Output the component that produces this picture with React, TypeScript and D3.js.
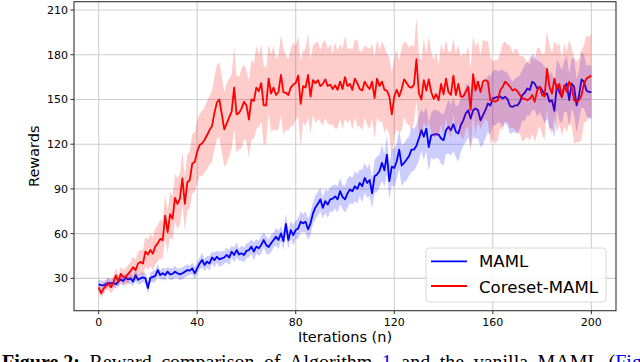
import React from "react";
import * as d3 from "d3";

const xTicks = [0, 40, 80, 120, 160, 200];
const yTicks = [30, 60, 90, 120, 150, 180, 210];

const mamlMean = [
  26, 25.5, 25.3, 26.2, 27, 26.6, 27, 26, 27.8, 29.3,
  28.2, 30.4, 29.3, 30, 27.8, 32.2, 29, 30, 30.7, 30,
  23.5, 30.4, 31, 31.6, 35.6, 32.2, 33.4, 32.2, 34.5, 32.7,
  33, 34.5, 33.4, 32.7, 33.4, 34.5, 35.6, 35.2, 36.7, 33.4,
  36.7, 40, 42.3, 39, 41.2, 40, 44, 42.3, 44.5, 42.7,
  43.4, 44, 45.7, 44, 47.9, 45.7, 49, 46, 46.8, 45.7,
  48.5, 49, 51.3, 48, 51.3, 50.2, 52.4, 55.7, 52.4, 51,
  53.5, 55.7, 58, 55.7, 60.2, 55, 66.5, 55.7, 62.4, 59,
  62.4, 63.5, 68, 66.9, 68, 62.9, 66.9, 73.6, 77.6, 80,
  83, 77.3, 81.8, 79.5, 83, 83.5, 85, 83, 88.5, 84.6,
  83, 87, 89.6, 88.5, 91.8, 90, 94, 91.8, 97.4, 94,
  96, 87, 98.5, 99.7, 102, 107.5, 102.5, 113, 95.2, 105,
  104, 108.6, 116.4, 105.7, 107.5, 109.7, 112, 116.4, 116.4, 119,
  124, 129.4, 125, 130.5, 118, 126, 126.5, 126.8, 126.5, 123.8,
  122.7, 129.4, 131.7, 129.4, 133.4, 128.3, 127.2, 132.8, 136, 140.6,
  142.8, 137.2, 142.8, 144, 142.8, 136, 139.5, 142.8, 147.3, 146,
  150.7, 151.3, 151.8, 152, 150.7, 151.8, 150, 145.5, 145, 146,
  146, 148.4, 153, 154.5, 157.4, 156.3, 161.9, 160.7, 157.4, 158.5,
  156.3, 153, 154, 148.4, 149.5, 142.4, 159.6, 155, 151.8, 158.5,
  160.7, 149.5, 160.7, 158.5, 146, 152.8, 163.4, 161.9, 156, 155,
  155,
];

const mamlSpread = [
  3, 3, 3, 3, 3, 3, 3, 3, 3, 3,
  3, 3, 3, 4, 3, 4, 3, 4, 3, 4,
  4, 3, 4, 4, 4, 3, 4, 4, 3, 4,
  4, 4, 3, 4, 4, 4, 4, 3, 4, 4,
  4, 4, 5, 4, 4, 5, 4, 5, 4, 5,
  5, 4, 5, 5, 4, 5, 5, 4, 5, 5,
  5, 5, 5, 6, 5, 5, 6, 5, 6, 5,
  6, 5, 6, 6, 5, 6, 7, 6, 6, 7,
  6, 7, 7, 6, 7, 7, 8, 7, 8, 8,
  8, 7, 8, 9, 8, 9, 8, 9, 9, 8,
  9, 10, 9, 9, 10, 10, 9, 11, 10, 10,
  11, 10, 11, 12, 11, 12, 11, 13, 12, 12,
  13, 12, 13, 14, 13, 14, 13, 15, 14, 14,
  15, 14, 16, 15, 16, 15, 17, 16, 16, 17,
  17, 16, 18, 17, 18, 17, 19, 18, 17, 19,
  18, 19, 18, 20, 19, 18, 20, 19, 19, 20,
  18, 19, 17, 18, 19, 17, 18, 19, 17, 18,
  19, 18, 17, 19, 18, 17, 19, 18, 19, 17,
  18, 19, 17, 18, 19, 18, 17, 19, 18, 17,
  19, 18, 17, 19, 18, 17, 19, 18, 17, 18,
  18,
];

const coresetMean = [
  24, 20, 23, 25, 26.5, 24, 27, 32, 28, 33,
  31, 31, 33, 35, 37.5, 35.5, 40, 41, 40, 48,
  46, 49, 46.5, 51.5, 53.5, 56.5, 55.5, 72, 61, 73,
  70, 84, 80, 83.5, 97, 80, 94.5, 96, 107, 108,
  115, 119.5, 120.5, 123, 126, 129.5, 132, 141, 148, 150,
  140, 130, 134, 138, 142, 158, 140, 141, 144, 148.5,
  146, 136.5, 150, 149, 158, 155.5, 161, 146, 146, 164,
  154, 158, 153, 155, 166.5, 155, 154.5, 153, 158, 160,
  161, 166, 147, 159, 158, 166.5, 152, 163, 161, 163,
  159, 160.5, 163.5, 159, 160, 157, 159.5, 156.5, 162, 157,
  165, 159, 160.5, 156.5, 164, 161, 157, 156, 162, 159,
  157, 162, 151, 164, 159, 162, 156.5, 156, 152, 140,
  152, 156.5, 152, 157, 163.5, 161, 158.5, 158, 160, 177,
  154, 150, 163, 156, 163.5, 155, 150.5, 153.5, 149.5, 160.5,
  153.5, 164, 155, 153, 166, 153, 160.5, 152, 152, 155,
  158.5, 143, 167, 156, 162, 155, 162, 163, 162, 149.5,
  149.5, 148.5, 149.5, 156, 158.5, 162, 160.5, 158.5, 156, 157,
  155.5, 153, 150.5, 150.5, 149.5, 150.5, 153, 148.5, 156, 158.5,
  153, 152, 170.5, 158.5, 154, 164, 157, 160.5, 151.5, 159.5,
  155, 162, 158.5, 149.5, 148.5, 149.5, 153, 160.5, 164, 165,
  166,
];

const coresetSpread = [
  3, 3, 4, 3, 4, 4, 5, 5, 4, 5,
  5, 6, 6, 6, 7, 7, 8, 8, 9, 10,
  10, 11, 11, 12, 12, 13, 13, 14, 14, 15,
  15, 16, 17, 17, 18, 18, 19, 19, 20, 20,
  21, 21, 22, 22, 23, 23, 24, 24, 25, 25,
  26, 25, 27, 26, 25, 27, 26, 24, 27, 25,
  24, 26, 27, 25, 28, 24, 26, 27, 25, 23,
  26, 28, 24, 25, 27, 29, 25, 24, 26, 28,
  25, 27, 29, 24, 26, 28, 25, 23, 27, 26,
  24, 28, 26, 25, 27, 24, 29, 26, 25, 27,
  28, 25, 24, 27, 26, 29, 25, 27, 24, 26,
  27, 25, 28, 26, 24, 27, 29, 25, 26, 28,
  26, 27, 24, 28, 25, 27, 26, 29, 25, 28,
  27, 26, 28, 25, 29, 27, 26, 28, 24, 27,
  28, 26, 27, 29, 25, 28, 26, 27, 29, 25,
  27, 28, 26, 29, 27, 25, 28, 26, 27, 29,
  26, 28, 27, 25, 29, 27, 26, 28, 25, 27,
  28, 26, 29, 27, 25, 28, 26, 27, 29, 26,
  27, 29, 26, 28, 27, 25, 29, 27, 26, 28,
  27, 28, 26, 29, 27, 28, 30, 26, 29, 27,
  28,
];

const seriesNames = ["MAML", "Coreset-MAML"];
const seriesColors = ["#0000ff", "#ff0000"];

const W = 640;
const H = 362;
const L = 74, R = 616, T = 1.7, B = 310.7;

export default function App() {
  const x = d3.scaleLinear().domain([-10, 210]).range([L, R]);
  const y = d3.scaleLinear().domain([8.3, 215.6]).range([B, T]);

  const line = d3
    .line<number>()
    .x((_, i) => x(i))
    .y((d) => y(d));

  const mkArea = (mean: number[], spread: number[]) =>
    d3
      .area<number>()
      .x((_, i) => x(i))
      .y0((d, i) => y(d - spread[i]))
      .y1((d, i) => y(d + spread[i]))(mean) || "";

  const font = "'DejaVu Sans', sans-serif";

  return (
    <svg
      width={W}
      height={H}
      style={{ position: "absolute", left: 0, top: 0, background: "#fff" }}
    >
      <defs>
        <clipPath id="plot">
          <rect x={L} y={T} width={R - L} height={B - T} />
        </clipPath>
      </defs>
      {/* grid */}
      {xTicks.map((t) => (
        <line key={"gx" + t} x1={x(t)} x2={x(t)} y1={T} y2={B} stroke="#cfcfcf" strokeWidth={1.1} />
      ))}
      {yTicks.map((t) => (
        <line key={"gy" + t} x1={L} x2={R} y1={y(t)} y2={y(t)} stroke="#cfcfcf" strokeWidth={1.1} />
      ))}
      <g clipPath="url(#plot)">
        <path d={mkArea(mamlMean, mamlSpread)} fill="#0000ff" fillOpacity={0.2} />
        <path d={line(mamlMean) || ""} fill="none" stroke={seriesColors[0]} strokeWidth={1.8} strokeLinejoin="round" />
        <path d={mkArea(coresetMean, coresetSpread)} fill="#ff0000" fillOpacity={0.2} />
        <path d={line(coresetMean) || ""} fill="none" stroke={seriesColors[1]} strokeWidth={1.8} strokeLinejoin="round" />
      </g>
      {/* frame */}
      <rect x={L} y={T} width={R - L} height={B - T} fill="none" stroke="#333" strokeWidth={1.1} />
      {/* ticks */}
      {xTicks.map((t) => (
        <g key={"tx" + t}>
          <line x1={x(t)} x2={x(t)} y1={B} y2={B + 3.5} stroke="#333" strokeWidth={1} />
          <text x={x(t)} y={325.5} fontSize={11} fontFamily={font} textAnchor="middle" fill="#000">
            {t}
          </text>
        </g>
      ))}
      {yTicks.map((t) => (
        <g key={"ty" + t}>
          <line x1={L - 3.5} x2={L} y1={y(t)} y2={y(t)} stroke="#333" strokeWidth={1} />
          <text x={L - 6} y={y(t) + 4} fontSize={11} fontFamily={font} textAnchor="end" fill="#000">
            {t}
          </text>
        </g>
      ))}
      <text x={(L + R) / 2} y={342} fontSize={14.5} fontFamily={font} textAnchor="middle" fill="#000">
        Iterations (n)
      </text>
      <text
        transform={`translate(38.6, ${(T + B) / 2}) rotate(-90)`}
        fontSize={14.5}
        fontFamily={font}
        textAnchor="middle"
        fill="#000"
      >
        Rewards
      </text>
      {/* legend */}
      <rect x={426} y={248} width={180} height={54} rx={3} fill="#fff" fillOpacity={0.8} stroke="#d8d8d8" strokeWidth={1} />
      {seriesNames.map((n, i) => (
        <g key={n}>
          <line x1={431} x2={467} y1={261.3 + i * 24.7} y2={261.3 + i * 24.7} stroke={seriesColors[i]} strokeWidth={1.8} />
          <text x={479} y={267 + i * 25.5} fontSize={16.6} fontFamily={font} fill="#000">
            {n}
          </text>
        </g>
      ))}
      {/* caption */}
      <text
        x={2}
        y={369}
        fontSize={20}
        fontFamily="'Liberation Serif', 'Times New Roman', serif"
        fill="#000"
      >
        <tspan fontWeight="bold">Figure 2:</tspan>
        <tspan wordSpacing={4.5}> Reward comparison of Algorithm </tspan>
        <tspan fill="#0000ee">1</tspan>
        <tspan wordSpacing={4.5}> and the vanilla MAML (</tspan>
        <tspan fill="#0000ee">Figure</tspan>
      </text>
    </svg>
  );
}
